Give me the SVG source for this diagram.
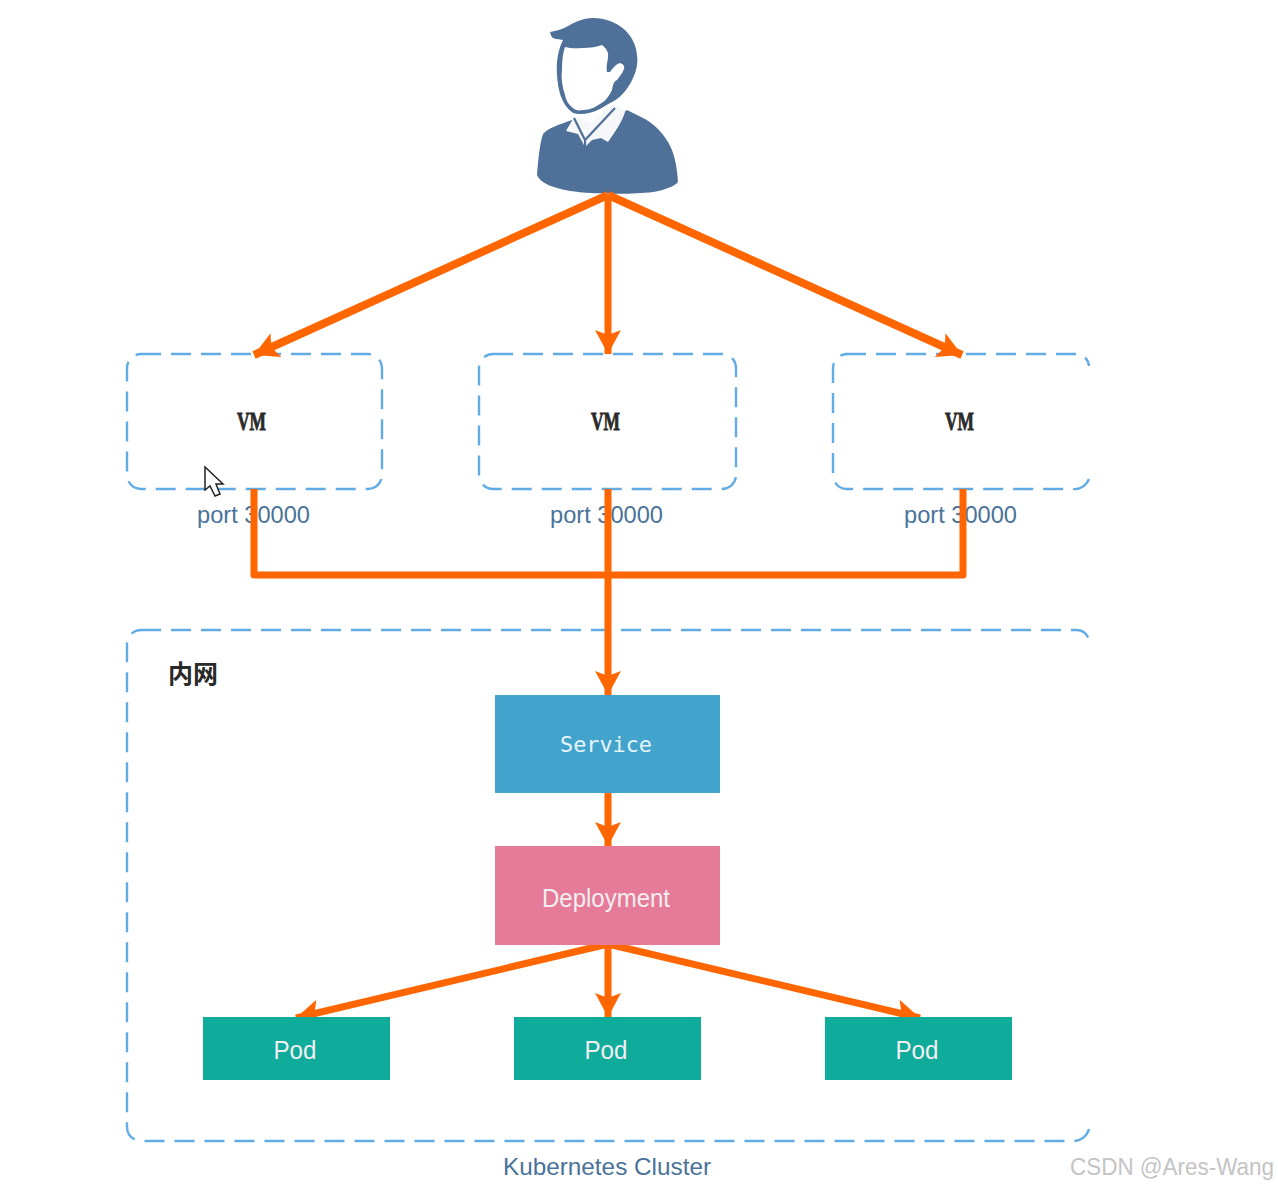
<svg xmlns="http://www.w3.org/2000/svg" width="1278" height="1188" viewBox="0 0 1278 1188">
<defs>
<marker id="ah" markerUnits="userSpaceOnUse" markerWidth="28" markerHeight="28" refX="24" refY="13" orient="auto"><path d="M0 0L24 13L0 26L5 13Z" fill="#ff6600"/></marker>
</defs>
<style>
.box{fill:none;stroke:#62ace6;stroke-width:2.4;stroke-dasharray:20 10}
.wire{fill:none;stroke:#ff6600;stroke-width:7}
.arr{marker-end:url(#ah)}
.port{font:24px "Liberation Sans",sans-serif;fill:#4a7399}
.vm{font:bold 25px "Liberation Serif",serif;fill:#2a2a2a;stroke:#2a2a2a;stroke-width:.8;text-anchor:middle}
.lbl{font:25px "Liberation Sans",sans-serif;fill:#f3eef0;text-anchor:middle}
.svc{font:21px "DejaVu Sans Mono",monospace;fill:#e6f5fb;text-anchor:middle}
</style>
<rect width="1278" height="1188" fill="#fff"/>
<g id="user">
<path fill="#4f7199" d="M572 120C558 125 548 128 543 134C540 142 538 160 537 175C540 183 553 188 570 191C590 194 630 195 653 192C665 190 675 186 678 182C677 165 674 152 668 142C662 132 655 125 645 119L627 110L600 130Z"/>
<path fill="#f6f7f9" d="M574 117L566 131L578 134L585 147L592 140L601 138L608 142C615 132 622 122 625 112L613 104L592 122Z"/>
<path fill="none" stroke="#4f7199" stroke-width="2.2" d="M574 118L585 140L615 108M585 140L585 147"/>
<path fill="#4f7199" d="M550 32C551 37 553 39 557 39L563 40C558 50 556 62 557 75C558 90 561 104 573 113C580 115 590 114 600 109L610 103C618 100 628 90 633 78C637 70 638 62 637 55C636 45 632 37 625 30C616 22 605 18 593 18C583 18 575 22 570 25C563 29 556 31 550 32Z"/>
<path fill="#fff" d="M565 47C572 49 578 48 583 48C590 48 597 47 602 45C606 48 609 52 608 58C607 63 606 68 607 72L610 72C613 68 616 64 620 63C623 64 625 66 624 69C622 74 619 77 617 80C613 82 613 86 612 90C609 96 606 100 603 102C596 107 590 110 583 110C578 111 575 110 573 108C568 104 566 100 565 95C562 86 561 78 562 70C562 60 563 53 565 47Z"/>
</g>
<g id="vm1"><rect class="box" x="127" y="354" width="255" height="135" rx="14"/><text class="vm" x="251.500" y="430" textLength="29" lengthAdjust="spacingAndGlyphs">VM</text></g>
<g id="vm2"><rect class="box" x="479" y="354" width="257" height="135" rx="14"/><text class="vm" x="605.500" y="430" textLength="29" lengthAdjust="spacingAndGlyphs">VM</text></g>
<g id="vm3">
<path class="box" d="M1089 479A16 16 0 0 1 1072 489H847A14 14 0 0 1 833 475V368A14 14 0 0 1 847 354"/>
<path class="box" d="M846 354H1076A13 13 0 0 1 1089 366"/>
<text class="vm" x="959.500" y="430" textLength="29" lengthAdjust="spacingAndGlyphs">VM</text></g>
<g id="cluster">
<path class="box" d="M1089 1129A16 16 0 0 1 1073 1141H141A14 14 0 0 1 127 1127V644A14 14 0 0 1 141 630"/>
<path class="box" d="M141 630H1076A13 13 0 0 1 1089 640"/>
<text x="168" y="683" font-family="'Noto Sans CJK SC',sans-serif" font-weight="700" font-size="25" fill="#2a2a2a">内网</text>
<text x="607" y="1175" font-family="'Liberation Sans',sans-serif" font-size="24" fill="#4a7399" text-anchor="middle" textLength="208" lengthAdjust="spacingAndGlyphs">Kubernetes Cluster</text></g>
<g id="ports">
<text class="port" x="197" y="523" textLength="113" lengthAdjust="spacingAndGlyphs">port 30000</text>
<text class="port" x="550" y="523" textLength="113" lengthAdjust="spacingAndGlyphs">port 30000</text>
<text class="port" x="904" y="523" textLength="113" lengthAdjust="spacingAndGlyphs">port 30000</text>
</g>
<g id="connectors">
<path class="wire arr" style="stroke-width:8" d="M608 195L254 355"/>
<path class="wire arr" d="M608 195V354"/>
<path class="wire arr" style="stroke-width:8" d="M608 195L962 355"/>
<path class="wire" stroke-linejoin="round" d="M254 489V575H963V489"/>
<path class="wire arr" d="M608 489V695"/>
<path class="wire arr" d="M608 793V846"/>
<path class="wire arr" d="M608 944L296 1018"/>
<path class="wire arr" d="M608 944V1017"/>
<path class="wire arr" d="M608 944L920 1018"/>
</g>
<g id="service"><rect x="495" y="695" width="225" height="98" fill="#42a4cd"/><text class="svc" x="606" y="752" textLength="92" lengthAdjust="spacingAndGlyphs">Service</text></g>
<g id="deployment"><rect x="495" y="846" width="225" height="99" fill="#e57b98"/><text class="lbl" x="606" y="907" textLength="128" lengthAdjust="spacingAndGlyphs">Deployment</text></g>
<g id="pod1"><rect x="203" y="1017" width="187" height="63" fill="#0fab9b"/><text class="lbl" x="295" y="1059" textLength="43" lengthAdjust="spacingAndGlyphs">Pod</text></g>
<g id="pod2"><rect x="514" y="1017" width="187" height="63" fill="#0fab9b"/><text class="lbl" x="606" y="1059" textLength="43" lengthAdjust="spacingAndGlyphs">Pod</text></g>
<g id="pod3"><rect x="825" y="1017" width="187" height="63" fill="#0fab9b"/><text class="lbl" x="917" y="1059" textLength="43" lengthAdjust="spacingAndGlyphs">Pod</text></g>
<g id="cursor"><path d="M205 467V490L210 486L215 496L220 494L216 484L223 484Z" fill="#fff" stroke="#222" stroke-width="1.5"/></g>
<text id="watermark" x="1070" y="1175" font-family="'Liberation Sans',sans-serif" font-size="23" fill="#c4c4c4" textLength="204" lengthAdjust="spacingAndGlyphs">CSDN @Ares-Wang</text>
</svg>
